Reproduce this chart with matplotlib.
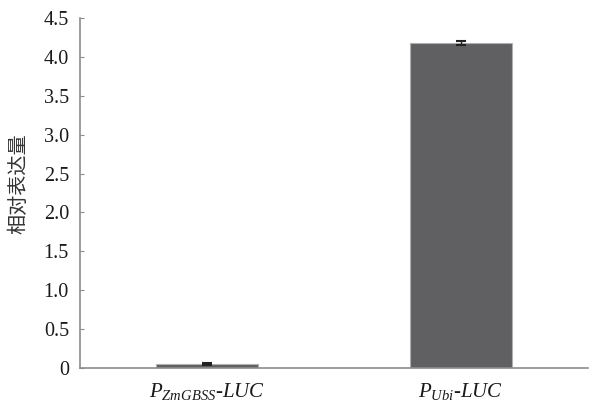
import matplotlib
matplotlib.use("Agg")
import matplotlib.pyplot as plt
from matplotlib.ticker import FixedLocator, FixedFormatter

categories = [r"$P_{ZmGBSS}$-$LUC$", r"$P_{Ubi}$-$LUC$"]
values = [0.05, 4.18]
errors = [0.01, 0.03]
yticks = [0, 0.5, 1.0, 1.5, 2.0, 2.5, 3.0, 3.5, 4.0, 4.5]
yticklabels = ["0", "0.5", "1.0", "1.5", "2.0", "2.5", "3.0", "3.5", "4.0", "4.5"]
ylabel = "相对表达量"

plt.rcParams["mathtext.fontset"] = "custom"
plt.rcParams["mathtext.it"] = "Liberation Serif:italic"
plt.rcParams["mathtext.rm"] = "Liberation Serif"
plt.rcParams["mathtext.default"] = "it"

fig = plt.figure(figsize=(5.9, 4.08), dpi=100)
ax = fig.add_axes([80/590, 1 - 368/408, 508/590, 350/408])

x = list(range(len(categories)))
ax.bar(x, values, width=0.4, color="#606062", edgecolor="#b0b0b0", linewidth=0.8,
       yerr=errors, capsize=3.5, error_kw=dict(ecolor="#222222", elinewidth=1.0, capthick=1.5))

ax.set_xlim(-0.5, 1.5)
ax.set_ylim(0, 4.5)
ax.yaxis.set_major_locator(FixedLocator(yticks))
ax.yaxis.set_major_formatter(FixedFormatter(yticklabels))
ax.set_xticks(x)
ax.set_xticklabels(categories, fontfamily="Liberation Serif", fontstyle="italic", fontsize=15)

for s in ["top", "right"]:
    ax.spines[s].set_visible(False)
for s in ["left", "bottom"]:
    ax.spines[s].set_color("#8c8c8c")
    ax.spines[s].set_linewidth(1.2)

ax.tick_params(axis="y", direction="in", length=3, color="#8c8c8c", labelsize=14.5, pad=8)
ax.tick_params(axis="x", length=0, pad=9)
for lbl in ax.get_yticklabels():
    lbl.set_fontfamily("Liberation Serif")
    lbl.set_color("#1a1a1a")
for lbl in ax.get_xticklabels():
    lbl.set_color("#1a1a1a")

ax.set_ylabel(ylabel, fontfamily=["Noto Sans CJK SC", "DejaVu Sans"], fontsize=14.5, color="#333333")
ax.yaxis.set_label_coords(-0.100, 0.526)

fig.savefig("out.png", dpi=100)
